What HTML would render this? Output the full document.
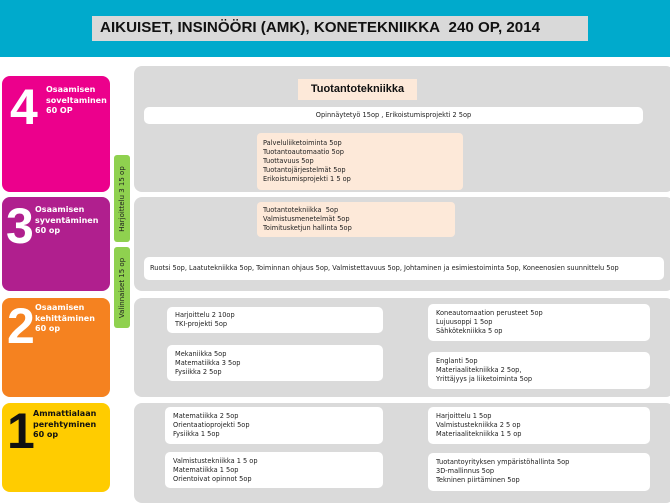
<!DOCTYPE html>
<html><head><meta charset="utf-8"><style>
*{margin:0;padding:0;box-sizing:border-box}
body{width:670px;height:497px;background:#fff;position:relative;overflow:hidden;font-family:"DejaVu Sans","Liberation Sans",sans-serif;color:#222}
div{position:absolute}
.hdr{left:0;top:0;width:670px;height:57px;background:#00aacc}
.title{left:92px;top:16px;width:496px;height:25px;background:#d9d9d9}
.title span{position:absolute;left:8px;top:0;font-family:"Liberation Sans",sans-serif;font-weight:bold;font-size:14.5px;line-height:25px;color:#111;white-space:nowrap;transform:scaleX(1.045);transform-origin:left}
.lv{left:2px;width:108px;border-radius:8px;color:#fff}
.num{font-family:"Liberation Sans",sans-serif;font-weight:bold;font-size:50px;line-height:50px}
.lt{font-size:8px;font-weight:bold;line-height:10.5px}
.pan{left:134px;width:540px;background:#dadada;border-radius:8px}
.g{left:114px;width:16px;background:#8fd14f;border-radius:3px}
.g span{position:absolute;left:50%;top:50%;transform:translate(-50%,-50%) rotate(-90deg);white-space:nowrap;font-size:7px;color:#222}
.w{background:#fff;border-radius:5px;font-size:6.6px;line-height:9px;padding:6px 8px}
.p{background:#fde9d9;border-radius:4px;font-size:6.6px;line-height:9px;padding:4px 6px}
</style></head><body>
<div class="hdr"></div>
<div class="title"><span>AIKUISET, INSINÖÖRI (AMK), KONETEKNIIKKA&nbsp; 240 OP, 2014</span></div>

<div class="lv" style="top:76px;height:116px;background:#ec008c"><div class="num" style="left:8px;top:6px">4</div><div class="lt" style="left:44px;top:9px">Osaamisen<br>soveltaminen<br>60 OP</div></div>
<div class="lv" style="top:197px;height:94px;background:#b01f8e"><div class="num" style="left:4px;top:4px">3</div><div class="lt" style="left:33px;top:8px">Osaamisen<br>syventäminen<br>60 op</div></div>
<div class="lv" style="top:298px;height:99px;background:#f58220"><div class="num" style="left:5px;top:3px">2</div><div class="lt" style="left:33px;top:5px">Osaamisen<br>kehittäminen<br>60 op</div></div>
<div class="lv" style="top:403px;height:89px;background:#ffcc00;color:#111"><div class="num" style="left:5px;top:3px">1</div><div class="lt" style="left:31px;top:6px">Ammattialaan<br>perehtyminen<br>60 op</div></div>

<div class="pan" style="top:66px;height:126px"></div>
<div class="pan" style="top:197px;height:94px"></div>
<div class="pan" style="top:298px;height:99px"></div>
<div class="pan" style="top:403px;height:100px"></div>

<div class="g" style="top:155px;height:87px"><span>Harjoittelu 3 15 op</span></div>
<div class="g" style="top:247px;height:81px"><span>Valinnaiset 15 op</span></div>

<div style="left:298px;top:79px;width:119px;height:21px;background:#fde9d9;font-family:'Liberation Sans',sans-serif;font-weight:bold;font-size:11px;line-height:21px;text-align:center;color:#111">Tuotantotekniikka</div>
<div class="w" style="left:144px;top:107px;width:499px;height:17px;padding:0;text-align:center;line-height:17px">Opinnäytetyö 15op , Erikoistumisprojekti 2 5op</div>
<div class="p" style="left:257px;top:133px;width:206px;height:57px;padding-top:6px">Palveluliiketoiminta 5op<br>Tuotantoautomaatio 5op<br>Tuottavuus 5op<br>Tuotantojärjestelmät 5op<br>Erikoistumisprojekti 1 5 op</div>
<div class="p" style="left:257px;top:202px;width:198px;height:35px">Tuotantotekniikka&nbsp; 5op<br>Valmistusmenetelmät 5op<br>Toimitusketjun hallinta 5op</div>
<div class="w" style="left:144px;top:257px;width:520px;height:23px;padding:0 0 0 6px;line-height:23px">Ruotsi 5op, Laatutekniikka 5op, Toiminnan ohjaus 5op, Valmistettavuus 5op, Johtaminen ja esimiestoiminta 5op, Koneenosien suunnittelu 5op</div>

<div class="w" style="left:167px;top:307px;width:216px;height:26px;padding-top:4px">Harjoittelu 2 10op<br>TKI-projekti 5op</div>
<div class="w" style="left:167px;top:345px;width:216px;height:36px;padding-top:5px">Mekaniikka 5op<br>Matematiikka 3 5op<br>Fysiikka 2 5op</div>
<div class="w" style="left:428px;top:304px;width:222px;height:37px;padding-top:5px">Koneautomaation perusteet 5op<br>Lujuusoppi 1 5op<br>Sähkötekniikka 5 op</div>
<div class="w" style="left:428px;top:352px;width:222px;height:37px;padding-top:5px">Englanti 5op<br>Materiaalitekniikka 2 5op,<br>Yrittäjyys ja liiketoiminta 5op</div>

<div class="w" style="left:165px;top:407px;width:218px;height:37px;padding-top:5px">Matematiikka 2 5op<br>Orientaatioprojekti 5op<br>Fysiikka 1 5op</div>
<div class="w" style="left:165px;top:452px;width:218px;height:36px;padding-top:5px">Valmistustekniikka 1 5 op<br>Matematiikka 1 5op<br>Orientoivat opinnot 5op</div>
<div class="w" style="left:428px;top:407px;width:222px;height:37px;padding-top:5px">Harjoittelu 1 5op<br>Valmistustekniikka 2 5 op<br>Materiaalitekniikka 1 5 op</div>
<div class="w" style="left:428px;top:453px;width:222px;height:38px;padding-top:5px">Tuotantoyrityksen ympäristöhallinta 5op<br>3D-mallinnus 5op<br>Tekninen piirtäminen 5op</div>
</body></html>
